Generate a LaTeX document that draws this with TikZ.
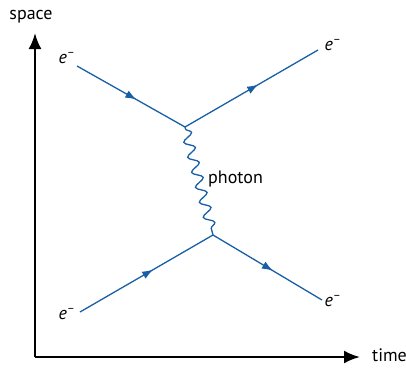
\documentclass[tikz,border=0pt]{standalone}
\usepackage{fontspec}
\setmainfont{PT Sans}
\usetikzlibrary{arrows.meta,decorations.pathmorphing,decorations.markings}
\definecolor{lineblue}{RGB}{25,95,165}
\tikzset{
  fermion/.style={lineblue,line width=1.3pt,postaction={decorate},
    decoration={markings,mark=at position 0.55 with {\arrow{Latex[length=11pt,width=8pt]}}}},
  boson/.style={lineblue,line width=1.3pt,decorate,
    decoration={snake,amplitude=5pt,segment length=15.5pt,pre length=2pt,post length=2pt}},
  lbl/.style={font=\fontsize{18}{21}\selectfont,inner sep=1pt},
}
\begin{document}
\begin{tikzpicture}[x=1pt,y=-1pt]
            \useasboundingbox (0,0) rectangle (406,367);
            % axes
            \coordinate (O) at (35,357);
            \coordinate (ytop) at (35,33);
            \coordinate (xend) at (360,357);
            \draw[line width=2.4pt,-{Latex[length=16pt,width=13pt]}] (O) -- (ytop);
            \draw[line width=2.4pt,-{Latex[length=16pt,width=13pt]}] (O) -- (xend);
            \node[lbl] (space) at (31,17) {space};
            \node[lbl,anchor=west] (time) at (371,355) {time};
            % vertices
            \coordinate (v1) at (185,127);
            \coordinate (v2) at (213,235);
            \coordinate (a) at (77,66);
            \coordinate (b) at (318,50);
            \coordinate (c) at (80,312);
            \coordinate (d) at (322,300);
            \draw[fermion] (a) -- (v1);
            \draw[fermion] (v1) -- (b);
            \draw[fermion] (c) -- (v2);
            \draw[fermion] (v2) -- (d);
            \draw[boson] (v1) -- (v2);
            \node[lbl] (e1) at (67,58) {\itshape e\textsuperscript{–}};
            \node[lbl] (e2) at (333,45) {\itshape e\textsuperscript{–}};
            \node[lbl] (e3) at (67,314) {\itshape e\textsuperscript{–}};
            \node[lbl] (e4) at (333,301) {\itshape e\textsuperscript{–}};
            \node[lbl,anchor=west] (ph) at (207,179) {photon};
        \end{tikzpicture}
\end{document}
